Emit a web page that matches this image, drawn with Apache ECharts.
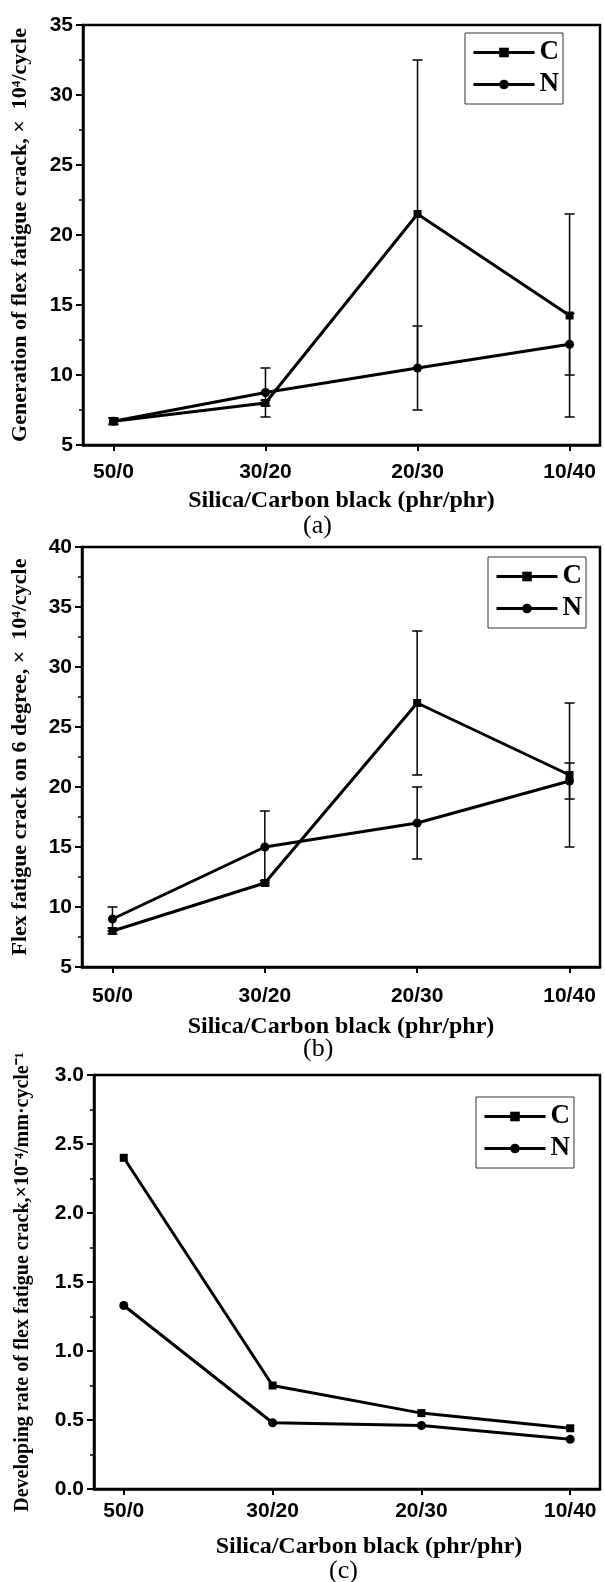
<!DOCTYPE html>
<html>
<head>
<meta charset="utf-8">
<title>Flex fatigue crack</title>
<script src="https://cdn.jsdelivr.net/npm/echarts@6/dist/echarts.min.js"></script>
<style>
	html, body {margin: 0; padding: 0; background: #fff;}
	#charts1 {width: 605px; height: 1582px;}
</style>
</head>
<body>
<div id="charts1"></div>
<script>
var categories = ['50/0', '30/20', '20/30', '10/40'];

// (a) generation of flex fatigue crack
var genC = [6.7, 8.0, 21.5, 14.25];
var genCErr = [0.25, 0.2, 11, 7.25];
var genN = [6.7, 8.75, 10.5, 12.2];
var genNErr = [0.2, 1.75, 3, 2.2];

// (b) flex fatigue crack on 6 degree
var degC = [8, 12, 27, 21];
var degCErr = [0.25, 0.2, 6, 6];
var degN = [9, 15, 17, 20.5];
var degNErr = [1, 3, 3, 1.5];

// (c) developing rate
var rateC = [2.40, 0.75, 0.55, 0.44];
var rateN = [1.33, 0.48, 0.46, 0.36];

var serif = '"Liberation Serif", "Times New Roman", serif';
var sans = '"Liberation Sans", Arial, sans-serif';

function points(values){
	return values.map(function(v, i){ return [i + 1, v]; });
}
function errors(values, errs){
	return values.map(function(v, i){ return [i + 1, v - errs[i], v + errs[i]]; });
}
function renderError(params, api){
	var x = api.value(0);
	var lo = api.coord([x, api.value(1)]);
	var hi = api.coord([x, api.value(2)]);
	var w = 5;
	var style = {stroke: '#000', lineWidth: 1.5};
	return {
		type: 'group',
		children: [
			{type: 'line', shape: {x1: lo[0], y1: lo[1], x2: hi[0], y2: hi[1]}, style: style},
			{type: 'line', shape: {x1: hi[0] - w, y1: hi[1], x2: hi[0] + w, y2: hi[1]}, style: style},
			{type: 'line', shape: {x1: lo[0] - w, y1: lo[1], x2: lo[0] + w, y2: lo[1]}, style: style}
		]
	};
}

function xAxis(idx, gap, margin, pad){
	return {
		type: 'value',
		gridIndex: idx,
		min: 0.8,
		max: 4.2,
		name: 'Silica/Carbon black (phr/phr)',
		nameLocation: 'middle',
		nameGap: gap,
		nameTextStyle: {fontFamily: serif, fontWeight: 'bold', fontSize: 24, color: '#000', padding: pad},
		axisLine: {lineStyle: {color: '#000', width: 2.5}},
		axisTick: {show: true, customValues: [1, 2, 3, 4], length: 6, lineStyle: {color: '#000', width: 2}},
		axisLabel: {
			customValues: [1, 2, 3, 4],
			formatter: function(v){ return categories[Math.round(v) - 1]; },
			margin: margin,
			fontFamily: sans, fontWeight: 'bold', fontSize: 21, color: '#000'
		},
		splitLine: {show: false}
	};
}
function yAxis(idx, min, max, step, name, gap, digits, nameSize){
	return {
		type: 'value',
		gridIndex: idx,
		min: min,
		max: max,
		interval: step,
		name: name,
		nameLocation: 'middle',
		nameGap: gap,
		nameTextStyle: {fontFamily: serif, fontWeight: 'bold', fontSize: nameSize, color: '#000'},
		axisLine: {show: true, lineStyle: {color: '#000', width: 2.5}},
		axisTick: {show: true, length: 7, lineStyle: {color: '#000', width: 2}},
		minorTick: {show: true, splitNumber: 2, length: 4, lineStyle: {color: '#000', width: 1.5}},
		axisLabel: {
			margin: 10,
			formatter: function(v){ return v.toFixed(digits); },
			fontFamily: sans, fontWeight: 'bold', fontSize: 21, color: '#000'
		},
		splitLine: {show: false}
	};
}
function legend(left, top){
	return {
		data: ['C', 'N'],
		orient: 'vertical',
		left: left,
		top: top,
		itemWidth: 61,
		itemHeight: 12,
		itemGap: 5,
		padding: [6, 4, 6, 7],
		borderColor: '#333',
		borderWidth: 1,
		lineStyle: {width: 3},
		textStyle: {fontFamily: serif, fontWeight: 'bold', fontSize: 27, color: '#000'}
	};
}
function lineSeries(name, idx, values){
	return {
		name: name,
		type: 'line',
		xAxisIndex: idx,
		yAxisIndex: idx,
		data: points(values),
		symbol: name == 'C' ? 'rect' : 'circle',
		symbolSize: name == 'C' ? 8 : 9,
		lineStyle: {color: '#000', width: 3},
		itemStyle: {color: '#000'},
		z: 3
	};
}
function errorSeries(idx, values, errs){
	return {
		type: 'custom',
		xAxisIndex: idx,
		yAxisIndex: idx,
		data: errors(values, errs),
		renderItem: renderError,
		z: 2
	};
}

var chart = echarts.init(document.getElementById('charts1'), null, {renderer: 'canvas'});
var frame = {show: true, borderColor: '#000', borderWidth: 2.5, backgroundColor: 'transparent'};
var option = {
	animation: false,
	backgroundColor: '#fff'
};
option.grid = [
	Object.assign({left: 83, top: 25, width: 517, height: 420}, frame),
	Object.assign({left: 82, top: 547, width: 518, height: 420}, frame),
	Object.assign({left: 94, top: 1075, width: 506, height: 414}, frame)
];
option.xAxis = [
	xAxis(0, 44, 17, 0),
	xAxis(1, 48, 19, 0),
	xAxis(2, 46, 12, [0, 0, 0, 44])
];
option.yAxis = [
	yAxis(0, 5, 35, 5, 'Generation of flex fatigue crack, \u00d7  10\u2074/cycle', 52, 0, 22),
	yAxis(1, 5, 40, 5, 'Flex fatigue crack on 6 degree, \u00d7  10\u2074/cycle', 51, 0, 22),
	yAxis(2, 0, 3, 0.5, 'Developing rate of flex fatigue crack,\u00d710\u207b\u2074/mm\u00b7cycle\u207b\u00b9', 61, 1, 20)
];
option.legend = [legend(465, 33), legend(488, 557), legend(476, 1097)];
option.series = [
	errorSeries(0, genC, genCErr),
	errorSeries(0, genN, genNErr),
	lineSeries('C', 0, genC),
	lineSeries('N', 0, genN),
	errorSeries(1, degC, degCErr),
	errorSeries(1, degN, degNErr),
	lineSeries('C', 1, degC),
	lineSeries('N', 1, degN),
	lineSeries('C', 2, rateC),
	lineSeries('N', 2, rateN)
];
option.graphic = [
	{type: 'text', left: 303, top: 513, style: {text: '(a)', font: '26px ' + serif, fill: '#000'}},
	{type: 'text', left: 303, top: 1036, style: {text: '(b)', font: '26px ' + serif, fill: '#000'}},
	{type: 'text', left: 329, top: 1558, style: {text: '(c)', font: '26px ' + serif, fill: '#000'}}
];
chart.setOption(option);
</script>
</body>
</html>
